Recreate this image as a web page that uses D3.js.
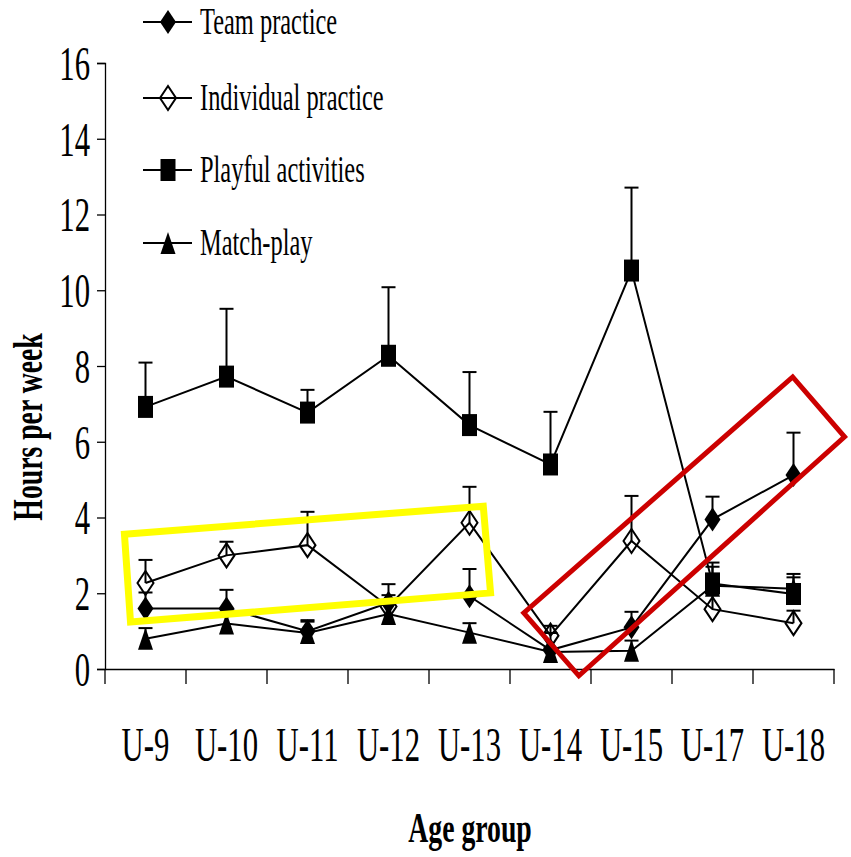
<!DOCTYPE html>
<html>
<head>
<meta charset="utf-8">
<script src="https://cdn.jsdelivr.net/npm/d3@7"></script>
<style>
  html, body { margin: 0; padding: 0; background: #fff; }
  svg { display: block; }
  text { font-family: "Liberation Serif", "Times New Roman", serif; fill: #000; }
</style>
</head>
<body>
<svg id="chart" width="851" height="857"></svg>
<script>
// Age groups and weekly hours (mean, with +1 SD error bars)
const categories = ["U-9", "U-10", "U-11", "U-12", "U-13", "U-14", "U-15", "U-17", "U-18"];
const yTicks = [0, 2, 4, 6, 8, 10, 12, 14, 16];

const teamPractice   = [1.60, 1.60, 1.00, 1.75, 1.92, 0.50, 1.10, 3.95, 5.12];
const teamPracticeSD = [0.42, 0.49, 0.29, 0.49, 0.72, 0.45, 0.41, 0.60, 1.12];

const individualPractice   = [2.27, 3.00, 3.27, 1.65, 3.86, 0.88, 3.38, 1.58, 1.21];
const individualPracticeSD = [0.61, 0.36, 0.88, 0.30, 0.95, 0.26, 1.19, 0.55, 0.33];

const playfulActivities   = [6.92, 7.72, 6.77, 8.27, 6.44, 5.40, 10.52, 2.26, 1.98];
const playfulActivitiesSD = [1.17, 1.79, 0.60, 1.81, 1.40, 1.39, 2.19, 0.55, 0.53];

const matchPlay   = [0.80, 1.20, 0.95, 1.45, 0.96, 0.45, 0.48, 2.20, 2.12];
const matchPlaySD = [0.28, 0.25, 0.30, 0.30, 0.25, 0.10, 0.27, 0.50, 0.30];

const seriesNames = ["Team practice", "Individual practice", "Playful activities", "Match-play"];
const seriesMarkers = ["diamondFilled", "diamondOpen", "square", "triangle"];

// Highlight frames, corners given as [category position, hours]
const yellowFrame = [[-0.26, 3.56], [4.17, 4.30], [4.26, 2.01], [-0.185, 1.24]];
const redFrame = [[4.67, 1.48], [5.35, -0.18], [8.63, 6.13], [7.99, 7.71]];

const series = [
  { name: seriesNames[0], values: teamPractice, sd: teamPracticeSD, marker: seriesMarkers[0] },
  { name: seriesNames[1], values: individualPractice, sd: individualPracticeSD, marker: seriesMarkers[1] },
  { name: seriesNames[2], values: playfulActivities, sd: playfulActivitiesSD, marker: seriesMarkers[2] },
  { name: seriesNames[3], values: matchPlay, sd: matchPlaySD, marker: seriesMarkers[3] }
];

const svg = d3.select("#chart");
const plot = { left: 105, right: 834, top: 63, bottom: 669 };
const SX = 0.64;   // condensed type for tick labels
const SXL = 0.66;  // legend and titles

const x = d3.scaleBand().domain(categories).range([plot.left, plot.right]).paddingInner(0).paddingOuter(0);
const y = d3.scaleLinear().domain([0, 16]).range([plot.bottom, plot.top]);
const xc = c => x(c) + x.bandwidth() / 2;
const xPos = d3.scaleLinear().domain([0, 1]).range([xc(categories[0]), xc(categories[1])]);

// Marker shapes (tall, narrow)
function markerPath(type) {
  const w = 8, h = 12;
  if (type === "square") return `M${-7.5},${-11}H7.5V11H-7.5Z`;
  if (type === "triangle") return `M0,${-11}L7.5,11H-7.5Z`;
  return `M0,${-h}L${w},0L0,${h}L${-w},0Z`;
}
function styleMarker(sel, type) {
  if (type === "diamondOpen") sel.attr("fill", "none").attr("stroke", "#000").attr("stroke-width", 2);
  else sel.attr("fill", "#000").attr("stroke", "none");
}

// Axes
const yAxis = d3.axisLeft(y).tickValues(yTicks).tickSize(8).tickFormat(d3.format("d"));
const gy = svg.append("g").attr("transform", `translate(${plot.left},0)`).call(yAxis);
gy.select(".domain").attr("stroke", "#000").attr("stroke-width", 1.3);
gy.selectAll(".tick line").attr("stroke", "#000").attr("stroke-width", 1.3);
gy.selectAll(".tick text")
  .attr("font-size", 48).attr("font-family", "Liberation Serif")
  .attr("x", -15 / SX).attr("dy", "0.34em")
  .attr("transform", `scale(${SX},1)`);

const xAxis = d3.axisBottom(x).tickSize(0).tickFormat(d => d);
const gx = svg.append("g").attr("transform", `translate(0,${plot.bottom})`).call(xAxis);
gx.select(".domain").attr("stroke", "#000").attr("stroke-width", 1.3);
gx.selectAll(".tick text").remove();
// tick marks between categories
const bounds = categories.map(c => x(c)).concat([plot.right]);
gx.selectAll("line.sep").data(bounds).join("line").attr("class", "sep")
  .attr("x1", d => d).attr("x2", d => d).attr("y1", 0).attr("y2", 15)
  .attr("stroke", "#000").attr("stroke-width", 1.3);

// Category labels
svg.append("g").selectAll("text").data(categories).join("text")
  .attr("transform", d => `translate(${xc(d)},761) scale(${SX},1)`)
  .attr("text-anchor", "middle").attr("font-size", 48).text(d => d);

// Axis titles
svg.append("text")
  .attr("transform", `translate(42,427) rotate(-90) scale(${SXL},1)`)
  .attr("text-anchor", "middle").attr("font-size", 42).attr("font-weight", "bold")
  .text("Hours per week");
svg.append("text")
  .attr("transform", `translate(470,842) scale(${SXL},1)`)
  .attr("text-anchor", "middle").attr("font-size", 42).attr("font-weight", "bold")
  .text("Age group");

// Series lines, error bars, markers
const line = d3.line().x((d, i) => xc(categories[i])).y(d => y(d));
series.forEach(s => {
  const g = svg.append("g");
  g.append("path").attr("d", line(s.values)).attr("fill", "none")
    .attr("stroke", "#000").attr("stroke-width", 2);
  const eb = g.selectAll("g.err").data(s.values).join("g").attr("class", "err");
  eb.append("line")
    .attr("x1", (d, i) => xc(categories[i])).attr("x2", (d, i) => xc(categories[i]))
    .attr("y1", d => y(d)).attr("y2", (d, i) => y(d + s.sd[i]))
    .attr("stroke", "#000").attr("stroke-width", 2);
  eb.append("line")
    .attr("x1", (d, i) => xc(categories[i]) - 7).attr("x2", (d, i) => xc(categories[i]) + 7)
    .attr("y1", (d, i) => y(d + s.sd[i])).attr("y2", (d, i) => y(d + s.sd[i]))
    .attr("stroke", "#000").attr("stroke-width", 2);
  g.selectAll("path.mk").data(s.values).join("path").attr("class", "mk")
    .attr("d", markerPath(s.marker))
    .attr("transform", (d, i) => `translate(${xc(categories[i])},${y(d)})`)
    .call(sel => styleMarker(sel, s.marker));
});

// Highlight frames
const framePts = f => f.map(p => [xPos(p[0]), y(p[1])].join(",")).join(" ");
svg.append("polygon").attr("points", framePts(yellowFrame))
  .attr("fill", "none").attr("stroke", "#ffff00").attr("stroke-width", 7).attr("stroke-linejoin", "miter");
svg.append("polygon").attr("points", framePts(redFrame))
  .attr("fill", "none").attr("stroke", "#cc0000").attr("stroke-width", 5).attr("stroke-linejoin", "miter");

// Legend
const legendY = [22, 98, 170, 243];
const lg = svg.append("g");
series.forEach((s, i) => {
  const ly = legendY[i];
  lg.append("line").attr("x1", 143).attr("x2", 192).attr("y1", ly).attr("y2", ly)
    .attr("stroke", "#000").attr("stroke-width", 2);
  lg.append("path").attr("d", markerPath(s.marker))
    .attr("transform", `translate(168,${ly})`)
    .call(sel => styleMarker(sel, s.marker));
  lg.append("text").attr("transform", `translate(200,${ly}) scale(${SXL},1)`)
    .attr("dy", "0.33em").attr("font-size", 37).text(s.name);
});
</script>
</body>
</html>
